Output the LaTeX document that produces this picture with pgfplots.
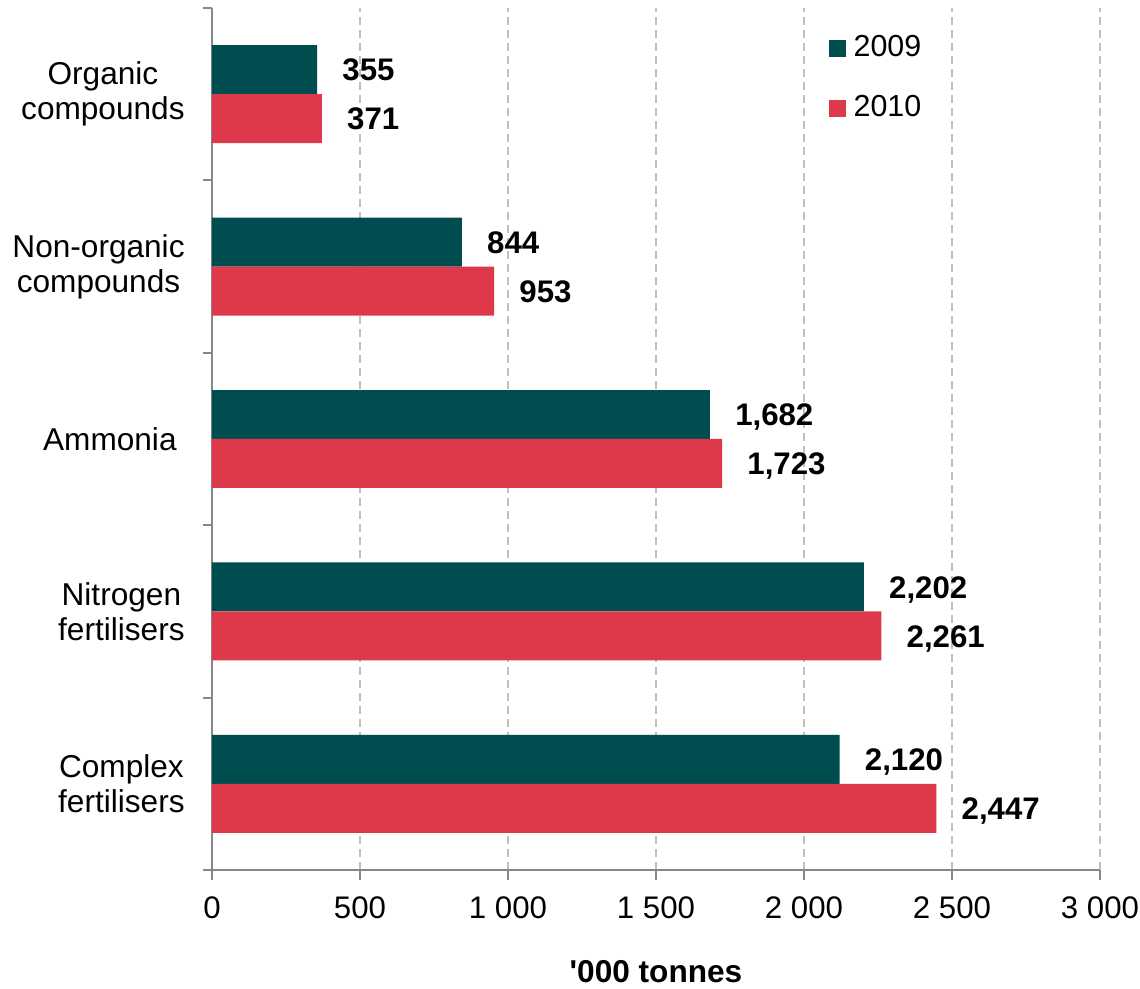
\documentclass[border=0pt]{standalone}
\usepackage{pgfplots}
\pgfplotsset{compat=1.18}
\usepackage{fontspec}
\setmainfont{Liberation Sans}
\definecolor{c2009}{RGB}{0,77,79}
\definecolor{c2010}{RGB}{221,57,74}
\definecolor{axgray}{RGB}{135,135,135}
\definecolor{gridgray}{RGB}{191,191,191}
\begin{document}
\fontsize{15.6}{17.5}\selectfont
\begin{tikzpicture}
\begin{axis}[
  scale only axis,
  width=444pt, height=431pt,
  xmin=0, xmax=3000,
  ymin=-0.5, ymax=4.5,
  axis x line*=bottom,
  axis y line*=left,
  axis line style={draw=axgray, line width=1pt},
  tick style={draw=axgray, line width=1pt},
  tick align=outside,
  xtick={0,500,...,3000},
  /pgf/number format/1000 sep={\ },
  /pgf/number format/assume math mode=true,
  xticklabel style={inner sep=0pt, yshift=-8pt, font=\fontsize{15.6}{17.5}\selectfont},
  major tick length=5pt,
  minor tick length=4.5pt,
  ytick={0,1,2,3,4},
  yticklabels={{Complex\\fertilisers},{Nitrogen\\fertilisers},{Ammonia\hspace*{4pt}},{Non-organic\\compounds},{Organic\\compounds}},
  major y tick style={draw=none},
  minor ytick={-0.5,0.5,...,4.5},
  yticklabel style={align=center, inner sep=0pt, xshift=-8.5pt, font=\fontsize{15.8}{17.6}\selectfont},
  xmajorgrids,
  grid style={draw=gridgray, line width=1pt, dash pattern=on 4pt off 2.5pt},
  xlabel={\bfseries\textquotesingle 000 tonnes},
  xlabel style={font=\fontsize{15.8}{17.5}\selectfont, yshift=-15.5pt},
  xbar,
  bar width=0.284,
  nodes near coords={\pgfmathprintnumber[1000 sep={,}]{\pgfplotspointmeta}},
  every node near coord/.append style={font=\fontsize{15.6}{17.5}\selectfont\bfseries, anchor=west, inner sep=0pt, text height=0.716em, text depth=0pt, xshift=12.5pt, black},
  legend style={draw=none, fill=none, at={(0.694,0.973)}, anchor=north west, font=\fontsize{15.2}{17.5}\selectfont, row sep=13pt, column sep=2pt, inner sep=0pt},
  legend cell align=left,
  legend image code/.code={\fill[#1] (0pt,-4.25pt) rectangle (8.5pt,4.25pt);},
]
\addplot[fill=c2009, draw=none, bar shift=0.142] coordinates {(2120,0) (2202,1) (1682,2) (844,3) (355,4)};
\addplot[fill=c2010, draw=none, bar shift=-0.142] coordinates {(2447,0) (2261,1) (1723,2) (953,3) (371,4)};
\legend{2009,2010}
\end{axis}
\pgfresetboundingbox
\path ([shift={(-106pt,-59.5pt)}]current axis.south west) rectangle ([shift={(20pt,4pt)}]current axis.north east);
\end{tikzpicture}
\end{document}
